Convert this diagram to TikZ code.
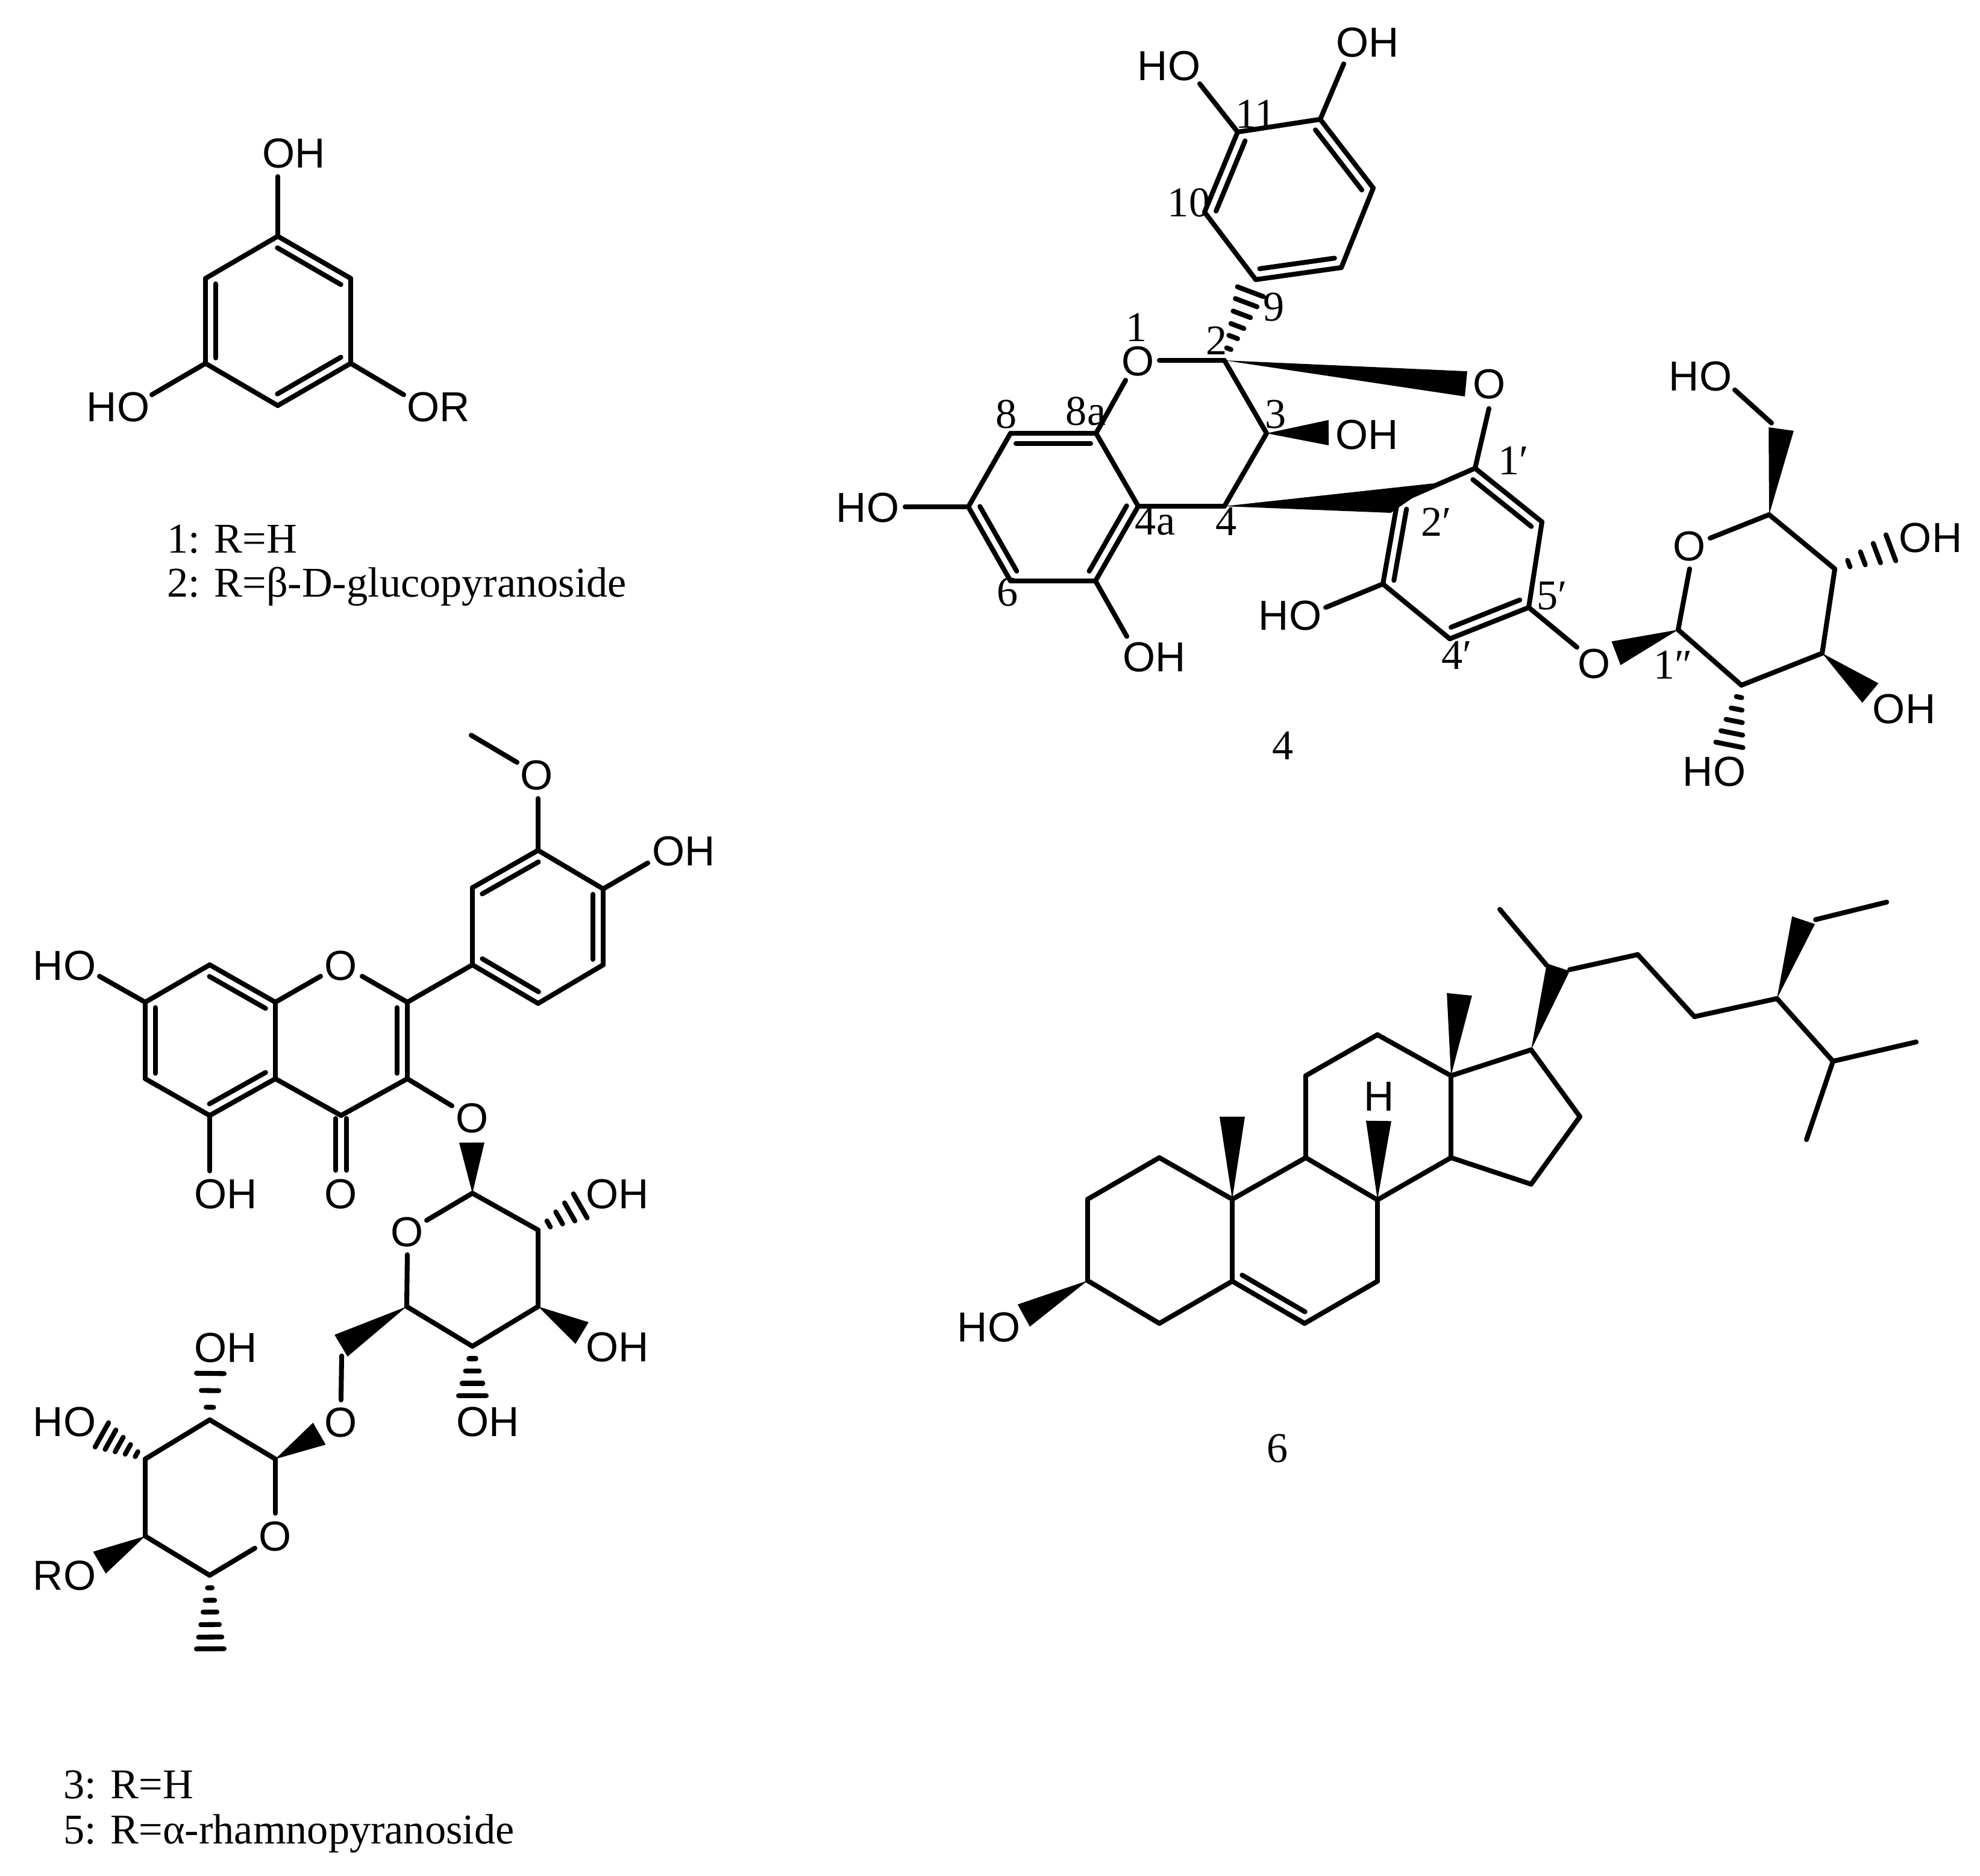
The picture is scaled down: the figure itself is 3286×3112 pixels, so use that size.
\documentclass[tikz,border=0pt]{standalone}
\usepackage{fontspec}
\setmainfont{Liberation Serif}
\newfontfamily\atomfont{Liberation Sans}
\usetikzlibrary{calc}

\newcommand{\hashbond}[3]{
  \foreach \hashpos in {#3} {
    \draw [stripe] ($(#1)!\hashpos!(#2)!\hashpos*1.15mm!90:(#1)$) -- ($(#1)!\hashpos!(#2)!\hashpos*1.15mm!-90:(#1)$);
  }
}

\begin{document}
\begin{tikzpicture}[
		x=0.05mm, y=-0.05mm,
		every node/.style={inner sep=0pt},
		atom/.style={font=\atomfont\fontsize{9.9}{11}\selectfont},
		num/.style={font=\fontsize{10}{12}\selectfont},
		caption/.style={font=\fontsize{10}{12}\selectfont, anchor=base west},
		bond/.style={line width=1.15pt, line cap=round, line join=round},
		stripe/.style={line width=1.15pt, line cap=round},
		wedge/.style={fill=black, draw=none, to path={(\tikztostart) -- ($(\tikztotarget)!#1mm!90:(\tikztostart)$) -- ($(\tikztotarget)!#1mm!-90:(\tikztostart)$) -- cycle}},
		wedge/.default=1.05,
		dbl/.style={bond, to path={(\tikztostart) -- (\tikztotarget) ($(\tikztostart)!0.45mm!(\tikztotarget)!0.85mm!-90:(\tikztotarget)$) -- ($(\tikztotarget)!0.45mm!(\tikztostart)!0.85mm!90:(\tikztostart)$)}}
	]
  \useasboundingbox (0,0) rectangle (3286,3112);

  % 1, 2
  \coordinate (ph_a) at (461,392);
  \coordinate (ph_b) at (582,462);
  \coordinate (ph_c) at (582,603);
  \coordinate (ph_d) at (461,673);
  \coordinate (ph_e) at (341,603);
  \coordinate (ph_f) at (341,462);
  \coordinate (ph_oh_end) at (461,293);
  \coordinate (ph_ho_end) at (252,655);
  \coordinate (ph_or_end) at (670,655);
  \node (ph_oh) [atom] at (488,255) {OH};
  \node (ph_ho) [atom] at (196,676) {HO};
  \node (ph_or) [atom] at (728,676) {OR};
  \draw [dbl] (ph_a) to (ph_b);
  \draw [bond] (ph_b) -- (ph_c);
  \draw [dbl] (ph_c) to (ph_d);
  \draw [bond] (ph_d) -- (ph_e);
  \draw [dbl] (ph_e) to (ph_f);
  \draw [bond] (ph_f) -- (ph_a);
  \draw [bond] (ph_a) -- (ph_oh_end);
  \draw [bond] (ph_e) -- (ph_ho_end);
  \draw [bond] (ph_c) -- (ph_or_end);
  \node (ph_cap_a) [caption] at (276,917) {1: R=H};
  \node (ph_cap_b) [caption] at (276,990) {2: R=β-D-glucopyranoside};

  % 4, upper rings
  \coordinate (ep_c2) at (2032,598);
  \coordinate (ep_c3) at (2102,719);
  \coordinate (ep_c4) at (2032,840);
  \coordinate (ep_c4a) at (1889,840);
  \coordinate (ep_c5) at (1818,964);
  \coordinate (ep_c6) at (1677,964);
  \coordinate (ep_c7) at (1607,841);
  \coordinate (ep_c8) at (1677,719);
  \coordinate (ep_c8a) at (1819,719);
  \coordinate (ep_o1_a) at (1868,631);
  \coordinate (ep_o1_b) at (1924,598);
  \coordinate (ep_c9) at (2084,464);
  \coordinate (ep_c10) at (1999,352);
  \coordinate (ep_c11) at (2054,219);
  \coordinate (ep_c12) at (2191,198);
  \coordinate (ep_c13) at (2279,312);
  \coordinate (ep_c14) at (2226,444);
  \coordinate (ep_h9) at (2075,484);
  \coordinate (ep_oh12_end) at (2230,106);
  \coordinate (ep_ho11_end) at (1991,139);
  \coordinate (ep_ho7_end) at (1502,841);
  \coordinate (ep_oh5_end) at (1870,1056);
  \coordinate (ep_w3) at (2205,718);
  \coordinate (ep_wo) at (2433,637);
  \node (ep_o1) [atom] at (1889,600) {O};
  \node (ep_oh12) [atom] at (2270,71) {OH};
  \node (ep_ho11) [atom] at (1940,110) {HO};
  \node (ep_oh3) [atom] at (2269,722) {OH};
  \node (ep_ho7) [atom] at (1440,843) {HO};
  \node (ep_oh5) [atom] at (1916,1091) {OH};
  \node (ep_n1) [num] at (1886,543) {1};
  \node (ep_n2) [num] at (2019,565) {2};
  \node (ep_n3) [num] at (2117,688) {3};
  \node (ep_n4) [num] at (2035,865) {4};
  \node (ep_n4a) [num] at (1917,865) {4a};
  \node (ep_n6) [num] at (1672,983) {6};
  \node (ep_n8) [num] at (1670,687) {8};
  \node (ep_n8a) [num] at (1802,682) {8a};
  \node (ep_n9) [num] at (2114,510) {9};
  \node (ep_n10) [num] at (1973,336) {10};
  \node (ep_n11) [num] at (2084,189) {11};
  \draw [dbl] (ep_c8) to (ep_c8a);
  \draw [bond] (ep_c8a) -- (ep_c4a);
  \draw [dbl] (ep_c4a) to (ep_c5);
  \draw [bond] (ep_c5) -- (ep_c6);
  \draw [dbl] (ep_c6) to (ep_c7);
  \draw [bond] (ep_c7) -- (ep_c8);
  \draw [bond] (ep_c8a) -- (ep_o1_a);
  \draw [bond] (ep_o1_b) -- (ep_c2);
  \draw [bond] (ep_c2) -- (ep_c3);
  \draw [bond] (ep_c3) -- (ep_c4);
  \draw [bond] (ep_c4) -- (ep_c4a);
  \draw [bond] (ep_c11) -- (ep_c12);
  \draw [dbl] (ep_c12) to (ep_c13);
  \draw [bond] (ep_c13) -- (ep_c14);
  \draw [dbl] (ep_c14) to (ep_c9);
  \draw [bond] (ep_c9) -- (ep_c10);
  \draw [dbl] (ep_c10) to (ep_c11);
  \draw [bond] (ep_c12) -- (ep_oh12_end);
  \draw [bond] (ep_c11) -- (ep_ho11_end);
  \draw [bond] (ep_c7) -- (ep_ho7_end);
  \draw [bond] (ep_c5) -- (ep_oh5_end);
  \hashbond{ep_c2}{ep_h9}{.17,.34,.5,.67,.84,1}
  \fill [wedge] (ep_c3) to (ep_w3);
  \fill [wedge] (ep_c2) to (ep_wo);

  % 4, lower ring and sugar
  \coordinate (ep_c1p) at (2448,777);
  \coordinate (ep_c2p) at (2319,833);
  \coordinate (ep_c2p_w) at (2308,851);
  \coordinate (ep_c2p_v) at (2380,802);
  \coordinate (ep_c3p) at (2295,969);
  \coordinate (ep_c4p) at (2406,1060);
  \coordinate (ep_c5p) at (2537,1008);
  \coordinate (ep_c6p) at (2559,866);
  \coordinate (ep_op_end) at (2471,678);
  \coordinate (ep_ho3p_end) at (2200,1008);
  \coordinate (ep_og_end) at (2617,1074);
  \coordinate (gl_c1) at (2785,1045);
  \coordinate (gl_c2) at (2890,1137);
  \coordinate (gl_c3) at (3024,1084);
  \coordinate (gl_c4) at (3045,944);
  \coordinate (gl_c5) at (2936,854);
  \coordinate (gl_c6) at (2940,702);
  \coordinate (gl_o_a) at (2804,944);
  \coordinate (gl_o_b) at (2838,893);
  \coordinate (gl_w1) at (2682,1084);
  \coordinate (gl_w3) at (3104,1150);
  \coordinate (gl_w6) at (2956,712);
  \coordinate (gl_h2) at (2870,1236);
  \coordinate (gl_h4) at (3138,909);
  \coordinate (gl_ho6_end) at (2879,647);
  \node (ep_op) [atom] at (2472,638) {O};
  \node (ep_ho3p) [atom] at (2141,1022) {HO};
  \node (ep_og) [atom] at (2646,1102) {O};
  \node (gl_o) [atom] at (2804,907) {O};
  \node (gl_ho6) [atom] at (2822,625) {HO};
  \node (gl_oh4) [atom] at (3204,893) {OH};
  \node (gl_oh3) [atom] at (3160,1177) {OH};
  \node (gl_ho2) [atom] at (2845,1281) {HO};
  \node (ep_n1p) [num] at (2512,764) {1′};
  \node (ep_n2p) [num] at (2384,866) {2′};
  \node (ep_n4p) [num] at (2418,1087) {4′};
  \node (ep_n5p) [num] at (2576,989) {5′};
  \node (gl_n1) [num] at (2777,1103) {1″};
  \node (ep_label) [num] at (2129,1237) {4};
  \draw [dbl] (ep_c1p) to (ep_c6p);
  \draw [bond] (ep_c6p) -- (ep_c5p);
  \draw [dbl] (ep_c5p) to (ep_c4p);
  \draw [bond] (ep_c4p) -- (ep_c3p);
  \draw [dbl] (ep_c3p) to (ep_c2p);
  \draw [bond] (ep_c2p) -- (ep_c1p);
  \draw [bond] (ep_c1p) -- (ep_op_end);
  \draw [bond] (ep_c3p) -- (ep_ho3p_end);
  \draw [bond] (ep_c5p) -- (ep_og_end);
  \fill (ep_c4) -- (ep_c2p_v) -- (ep_c2p_w) -- cycle;
  \draw [bond] (gl_c1) -- (gl_c2);
  \draw [bond] (gl_c2) -- (gl_c3);
  \draw [bond] (gl_c3) -- (gl_c4);
  \draw [bond] (gl_c4) -- (gl_c5);
  \draw [bond] (gl_c5) -- (gl_o_b);
  \draw [bond] (gl_o_a) -- (gl_c1);
  \draw [bond] (gl_c6) -- (gl_ho6_end);
  \fill [wedge] (gl_c1) to (gl_w1);
  \fill [wedge] (gl_c3) to (gl_w3);
  \fill [wedge] (gl_c5) to (gl_w6);
  \hashbond{gl_c2}{gl_h2}{.2,.4,.6,.8,1}
  \hashbond{gl_c4}{gl_h4}{.25,.5,.75,1}

  % 3, 5
  \coordinate (qu_me) at (782,1220);
  \coordinate (qu_ome_a) at (858,1265);
  \coordinate (qu_ome_b) at (893,1325);
  \coordinate (qu_c3p) at (893,1411);
  \coordinate (qu_c4p) at (1001,1475);
  \coordinate (qu_c5p) at (1001,1601);
  \coordinate (qu_c6p) at (893,1665);
  \coordinate (qu_c1p) at (784,1601);
  \coordinate (qu_c2p) at (784,1473);
  \coordinate (qu_oh4p_end) at (1075,1432);
  \coordinate (qu_c2) at (676,1663);
  \coordinate (qu_c3) at (676,1790);
  \coordinate (qu_c4) at (566,1851);
  \coordinate (qu_c4a) at (457,1790);
  \coordinate (qu_c5) at (348,1851);
  \coordinate (qu_c6) at (241,1790);
  \coordinate (qu_c7) at (241,1663);
  \coordinate (qu_c8) at (348,1601);
  \coordinate (qu_c8a) at (457,1663);
  \coordinate (qu_o1_a) at (532,1620);
  \coordinate (qu_o1_b) at (601,1620);
  \coordinate (qu_ho7_end) at (165,1620);
  \coordinate (qu_oh5_end) at (348,1943);
  \coordinate (qu_co_a) at (557,1856);
  \coordinate (qu_co_b) at (575,1856);
  \coordinate (qu_co_c) at (557,1942);
  \coordinate (qu_co_d) at (575,1942);
  \coordinate (qu_o3_end) at (750,1835);
  \node (qu_ome) [atom] at (891,1287) {O};
  \node (qu_oh4p) [atom] at (1135,1413) {OH};
  \node (qu_o1) [atom] at (566,1603) {O};
  \node (qu_ho7) [atom] at (107,1603) {HO};
  \node (qu_oh5) [atom] at (375,1982) {OH};
  \node (qu_o4) [atom] at (566,1982) {O};
  \node (qu_o3) [atom] at (784,1856) {O};
  \draw [bond] (qu_me) -- (qu_ome_a);
  \draw [bond] (qu_ome_b) -- (qu_c3p);
  \draw [bond] (qu_c3p) -- (qu_c4p);
  \draw [dbl] (qu_c4p) to (qu_c5p);
  \draw [bond] (qu_c5p) -- (qu_c6p);
  \draw [dbl] (qu_c6p) to (qu_c1p);
  \draw [bond] (qu_c1p) -- (qu_c2p);
  \draw [dbl] (qu_c2p) to (qu_c3p);
  \draw [bond] (qu_c4p) -- (qu_oh4p_end);
  \draw [bond] (qu_c1p) -- (qu_c2);
  \draw [dbl] (qu_c2) to (qu_c3);
  \draw [bond] (qu_c3) -- (qu_c4);
  \draw [bond] (qu_c4) -- (qu_c4a);
  \draw [bond] (qu_c8a) -- (qu_c4a);
  \draw [dbl] (qu_c4a) to (qu_c5);
  \draw [bond] (qu_c5) -- (qu_c6);
  \draw [dbl] (qu_c6) to (qu_c7);
  \draw [bond] (qu_c7) -- (qu_c8);
  \draw [dbl] (qu_c8) to (qu_c8a);
  \draw [bond] (qu_c8a) -- (qu_o1_a);
  \draw [bond] (qu_o1_b) -- (qu_c2);
  \draw [bond] (qu_c7) -- (qu_ho7_end);
  \draw [bond] (qu_c5) -- (qu_oh5_end);
  \draw [bond] (qu_co_a) -- (qu_co_c);
  \draw [bond] (qu_co_b) -- (qu_co_d);
  \draw [bond] (qu_c3) -- (qu_o3_end);

  % 3, 5 sugars
  \coordinate (gq_c1) at (784,1980);
  \coordinate (gq_c2) at (893,2041);
  \coordinate (gq_c3) at (893,2168);
  \coordinate (gq_c4) at (784,2234);
  \coordinate (gq_c5) at (675,2168);
  \coordinate (gq_o_a) at (708,2025);
  \coordinate (gq_o_b) at (676,2082);
  \coordinate (gq_w1) at (783,1896);
  \coordinate (gq_w3) at (966,2212);
  \coordinate (gq_w6) at (566,2233);
  \coordinate (gq_c6) at (567,2250);
  \coordinate (gq_o6_end) at (566,2323);
  \coordinate (gq_h2) at (963,2001);
  \coordinate (gq_h4) at (784,2316);
  \coordinate (rh_c1) at (457,2421);
  \coordinate (rh_c2) at (348,2356);
  \coordinate (rh_c3) at (241,2421);
  \coordinate (rh_c4) at (241,2549);
  \coordinate (rh_c5) at (348,2614);
  \coordinate (rh_o_a) at (457,2511);
  \coordinate (rh_o_b) at (423,2569);
  \coordinate (rh_w1) at (530,2379);
  \coordinate (rh_w4) at (165,2593);
  \coordinate (rh_h2) at (349,2279);
  \coordinate (rh_h3) at (169,2381);
  \coordinate (rh_h5) at (349,2736);
  \node (gq_o) [atom] at (676,2045) {O};
  \node (gq_oh2) [atom] at (1025,1982) {OH};
  \node (gq_oh3) [atom] at (1025,2236) {OH};
  \node (gq_oh4) [atom] at (810,2360) {OH};
  \node (gq_o6) [atom] at (566,2361) {O};
  \node (rh_oh2) [atom] at (375,2237) {OH};
  \node (rh_ho3) [atom] at (107,2360) {HO};
  \node (rh_ro) [atom] at (107,2615) {RO};
  \node (rh_o) [atom] at (457,2550) {O};
  \draw [bond] (gq_o_a) -- (gq_c1);
  \draw [bond] (gq_c1) -- (gq_c2);
  \draw [bond] (gq_c2) -- (gq_c3);
  \draw [bond] (gq_c3) -- (gq_c4);
  \draw [bond] (gq_c4) -- (gq_c5);
  \draw [bond] (gq_c5) -- (gq_o_b);
  \draw [bond] (gq_c6) -- (gq_o6_end);
  \fill [wedge] (gq_c1) to (gq_w1);
  \fill [wedge] (gq_c3) to (gq_w3);
  \fill [wedge] (gq_c5) to (gq_w6);
  \hashbond{gq_c2}{gq_h2}{.25,.5,.75,1}
  \hashbond{gq_c4}{gq_h4}{.25,.5,.75,1}
  \draw [bond] (rh_c1) -- (rh_c2);
  \draw [bond] (rh_c2) -- (rh_c3);
  \draw [bond] (rh_c3) -- (rh_c4);
  \draw [bond] (rh_c4) -- (rh_c5);
  \draw [bond] (rh_c5) -- (rh_o_b);
  \draw [bond] (rh_o_a) -- (rh_c1);
  \fill [wedge] (rh_c1) to (rh_w1);
  \fill [wedge] (rh_c4) to (rh_w4);
  \hashbond{rh_c2}{rh_h2}{.27,.63,1}
  \hashbond{rh_c3}{rh_h3}{.2,.4,.6,.8,1}
  \hashbond{rh_c5}{rh_h5}{.17,.34,.5,.67,.84,1}
  \node (qu_cap_a) [caption] at (104,2984) {3: R=H};
  \node (qu_cap_b) [caption] at (104,3059) {5: R=α-rhamnopyranoside};

  % 6
  \coordinate (si_c1) at (1924,1921);
  \coordinate (si_c2) at (1805,1990);
  \coordinate (si_c3) at (1805,2125);
  \coordinate (si_c4) at (1924,2196);
  \coordinate (si_c5) at (2045,2126);
  \coordinate (si_c6) at (2165,2196);
  \coordinate (si_c7) at (2286,2126);
  \coordinate (si_c8) at (2286,1991);
  \coordinate (si_c9) at (2167,1921);
  \coordinate (si_c10) at (2045,1990);
  \coordinate (si_c11) at (2167,1785);
  \coordinate (si_c12) at (2286,1717);
  \coordinate (si_c13) at (2408,1785);
  \coordinate (si_c14) at (2408,1921);
  \coordinate (si_c15) at (2541,1965);
  \coordinate (si_c16) at (2622,1853);
  \coordinate (si_c17) at (2541,1742);
  \coordinate (si_c18) at (2422,1650);
  \coordinate (si_c19) at (2045,1853);
  \coordinate (si_c20) at (2586,1605);
  \coordinate (si_c20_a) at (2567,1602);
  \coordinate (si_c20_b) at (2605,1609);
  \coordinate (si_c21) at (2489,1509);
  \coordinate (si_c22) at (2718,1584);
  \coordinate (si_c23) at (2812,1687);
  \coordinate (si_c24) at (2949,1657);
  \coordinate (si_c25) at (3042,1761);
  \coordinate (si_c26) at (3180,1729);
  \coordinate (si_c27) at (2998,1891);
  \coordinate (si_c28) at (2993,1527);
  \coordinate (si_c28_b) at (3013,1526);
  \coordinate (si_c29) at (3131,1497);
  \coordinate (si_w8) at (2288,1860);
  \coordinate (si_w3) at (1699,2183);
  \node (si_h) [atom] at (2289,1820) {H};
  \node (si_ho) [atom] at (1641,2203) {HO};
  \node (si_label) [num] at (2120,2404) {6};
  \draw [bond] (si_c1) -- (si_c2);
  \draw [bond] (si_c2) -- (si_c3);
  \draw [bond] (si_c3) -- (si_c4);
  \draw [bond] (si_c4) -- (si_c5);
  \draw [bond] (si_c5) -- (si_c10);
  \draw [bond] (si_c10) -- (si_c1);
  \draw [dbl] (si_c6) to (si_c5);
  \draw [bond] (si_c6) -- (si_c7);
  \draw [bond] (si_c7) -- (si_c8);
  \draw [bond] (si_c8) -- (si_c9);
  \draw [bond] (si_c9) -- (si_c10);
  \draw [bond] (si_c9) -- (si_c11);
  \draw [bond] (si_c11) -- (si_c12);
  \draw [bond] (si_c12) -- (si_c13);
  \draw [bond] (si_c13) -- (si_c14);
  \draw [bond] (si_c14) -- (si_c8);
  \draw [bond] (si_c14) -- (si_c15);
  \draw [bond] (si_c15) -- (si_c16);
  \draw [bond] (si_c16) -- (si_c17);
  \draw [bond] (si_c17) -- (si_c13);
  \draw [bond] (si_c21) -- (si_c20_a);
  \draw [bond] (si_c20_b) -- (si_c22);
  \draw [bond] (si_c22) -- (si_c23);
  \draw [bond] (si_c23) -- (si_c24);
  \draw [bond] (si_c24) -- (si_c25);
  \draw [bond] (si_c25) -- (si_c26);
  \draw [bond] (si_c25) -- (si_c27);
  \draw [bond] (si_c28_b) -- (si_c29);
  \fill [wedge] (si_c10) to (si_c19);
  \fill [wedge] (si_c13) to (si_c18);
  \fill [wedge] (si_c8) to (si_w8);
  \fill [wedge] (si_c3) to (si_w3);
  \fill [wedge=1] (si_c17) to (si_c20);
  \fill [wedge=1] (si_c24) to (si_c28);
\end{tikzpicture}
\end{document}
